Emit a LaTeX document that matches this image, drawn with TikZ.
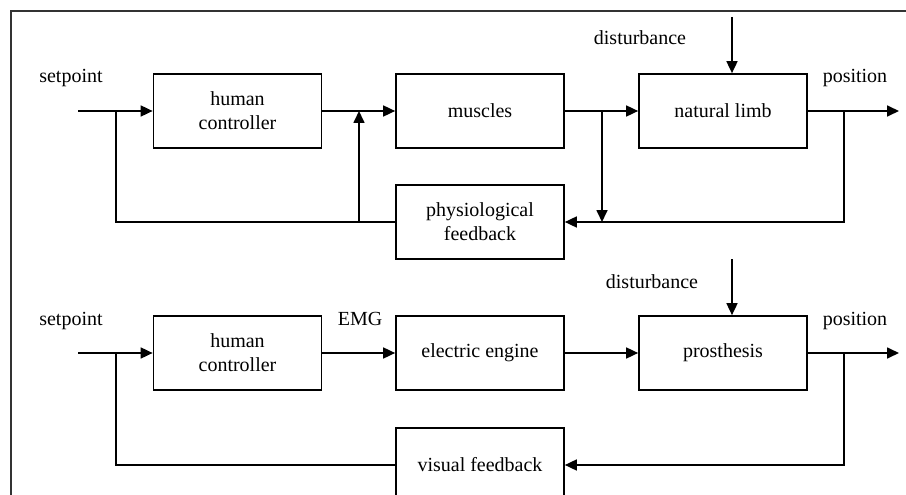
\documentclass[tikz,border=0pt]{standalone}
\usepackage{fontspec}
\setmainfont{Liberation Serif}
\usetikzlibrary{arrows.meta}
\begin{document}
\begin{tikzpicture}[x=1pt,y=-1pt,
  blk/.style={draw, line width=1.7pt, minimum width=168pt, minimum height=74pt, align=center, inner sep=0pt, font=\fontsize{20}{24}\selectfont},
  lbl/.style={font=\fontsize{20}{24}\selectfont, inner sep=0pt, anchor=base},
  wire/.style={line width=1.7pt},
  arr/.style={wire, -{Triangle[length=12pt,width=11pt]}}]
\useasboundingbox (0,0) rectangle (906,495);
\draw[line width=1.1pt, black!80] (11,495) -- (11,11) -- (906,11);

% top loop
\node[blk] (hc1) at (237.5,111) {human\\controller};
\node[blk] (mu) at (480,111) {muscles};
\node[blk] (nl) at (723,111) {natural limb};
\node[blk] (pf) at (480,222) {physiological\\feedback};
\node[lbl] (sp1) at (71,83) {setpoint};
\node[lbl] (pos1) at (855,83) {position};
\node[lbl] (dist1) at (640,45) {disturbance};

\coordinate (in1) at (78,111);
\coordinate (j1) at (116,111);
\coordinate (j2) at (602,111);
\coordinate (j3) at (844,111);
\coordinate (out1) at (899,111);
\coordinate (j4) at (359,222);
\coordinate (d1) at (732,17);

\draw[arr] (in1) -- (hc1.west);
\draw[arr] (hc1.east) -- (mu.west);
\draw[arr] (mu.east) -- (nl.west);
\draw[arr] (nl.east) -- (out1);
\draw[arr] (j3) |- (pf.east);
\draw[arr] (j2) -- (j2 |- pf.east);
\draw[wire] (pf.west) -| (j1);
\draw[arr] (j4) -- (j4 |- mu.west);
\draw[arr] (d1) -- (d1 |- nl.north);

% bottom loop
\node[blk] (hc2) at (237.5,353) {human\\controller};
\node[blk] (ee) at (480,353) {electric engine};
\node[blk] (pr) at (723,353) {prosthesis};
\node[blk] (vf) at (480,465) {visual feedback};
\node[lbl] (sp2) at (71,325) {setpoint};
\node[lbl] (emg) at (360,325) {EMG};
\node[lbl] (pos2) at (855,325) {position};
\node[lbl] (dist2) at (652,288) {disturbance};

\coordinate (in2) at (78,353);
\coordinate (j5) at (116,353);
\coordinate (j6) at (844,353);
\coordinate (out2) at (899,353);
\coordinate (d2) at (732,259);

\draw[arr] (in2) -- (hc2.west);
\draw[arr] (hc2.east) -- (ee.west);
\draw[arr] (ee.east) -- (pr.west);
\draw[arr] (pr.east) -- (out2);
\draw[arr] (j6) |- (vf.east);
\draw[wire] (vf.west) -| (j5);
\draw[arr] (d2) -- (d2 |- pr.north);
\end{tikzpicture}
\end{document}
